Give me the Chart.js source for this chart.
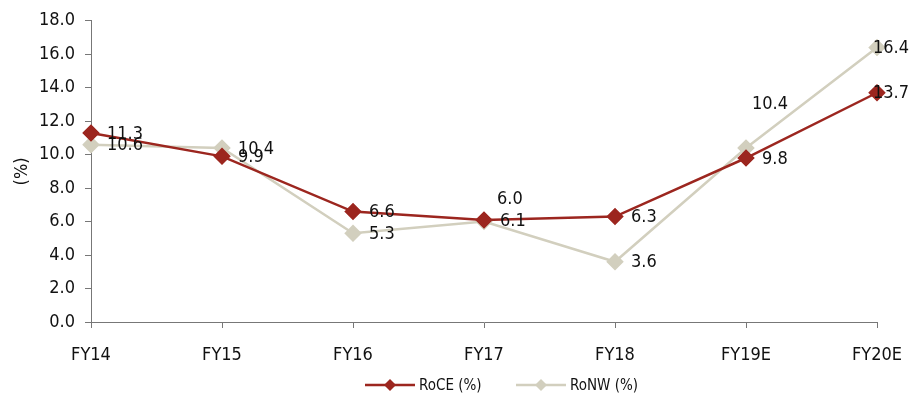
<!DOCTYPE html>
<html>
<head>
<meta charset="utf-8">
<script src="https://cdn.jsdelivr.net/npm/chart.js@4"></script>
<style>
  html, body { margin: 0; padding: 0; background: #fff; }
  #wrap { width: 922px; height: 401px; }
</style>
</head>
<body>
<div id="wrap"><canvas id="retChart" width="922" height="401"></canvas></div>
<script>
// ---- data ----
const years = ['FY14', 'FY15', 'FY16', 'FY17', 'FY18', 'FY19E', 'FY20E'];
const roce = [11.3, 9.9, 6.6, 6.1, 6.3, 9.8, 13.7];
const ronw = [10.6, 10.4, 5.3, 6.0, 3.6, 10.4, 16.4];
const yTicks = [0, 2, 4, 6, 8, 10, 12, 14, 16, 18];

const FONT = "'Liberation Sans Narrow', 'DejaVu Sans Condensed', sans-serif";
const RED = '#9C261F';
const BEIGE = '#D2CFBE';

// label nudges (px) per series / point
const labelShift = {
    0: { 5: [16, 0], 6: [-4, 0] },
    1: { 3: [13, -23], 5: [6, -45], 6: [-4, 0] }
};

const valueLabels = {
    id: 'valueLabels',
    afterDatasetsDraw(chart) {
        const ctx = chart.ctx;
        ctx.save();
        ctx.font = '18px ' + FONT;
        ctx.fillStyle = '#111';
        ctx.textAlign = 'left';
        ctx.textBaseline = 'middle';
        chart.data.datasets.forEach((ds, di) => {
            const meta = chart.getDatasetMeta(di);
            meta.data.forEach((pt, i) => {
                const s = (labelShift[di] && labelShift[di][i]) || [16, 0];
                ctx.fillText(ds.data[i].toFixed(1), pt.x + s[0], pt.y + s[1] + 1);
            });
        });
        ctx.restore();
    }
};

const lineLegend = {
    id: 'lineLegend',
    afterDraw(chart) {
        const ctx = chart.ctx;
        const y = 385;
        const items = [
            { x: 365, label: 'RoCE (%)', color: RED },
            { x: 516, label: 'RoNW (%)', color: BEIGE }
        ];
        ctx.save();
        items.forEach(it => {
            ctx.strokeStyle = it.color;
            ctx.lineWidth = 2.5;
            ctx.beginPath();
            ctx.moveTo(it.x, y);
            ctx.lineTo(it.x + 50, y);
            ctx.stroke();
            ctx.fillStyle = it.color;
            ctx.beginPath();
            ctx.moveTo(it.x + 25, y - 6);
            ctx.lineTo(it.x + 31, y);
            ctx.lineTo(it.x + 25, y + 6);
            ctx.lineTo(it.x + 19, y);
            ctx.closePath();
            ctx.fill();
            ctx.fillStyle = '#111';
            ctx.font = '15px ' + FONT;
            ctx.textBaseline = 'middle';
            ctx.fillText(it.label, it.x + 54, y + 1);
        });
        ctx.restore();
    }
};

new Chart(document.getElementById('retChart'), {
    type: 'line',
    data: {
        labels: years,
        datasets: [
            {
                label: 'RoCE (%)',
                data: roce,
                borderColor: RED,
                backgroundColor: RED,
                borderWidth: 2.5,
                pointStyle: 'rectRot',
                pointRadius: 7,
                pointHoverRadius: 7,
                tension: 0,
                order: 1
            },
            {
                label: 'RoNW (%)',
                data: ronw,
                borderColor: BEIGE,
                backgroundColor: BEIGE,
                borderWidth: 2.5,
                pointStyle: 'rectRot',
                pointRadius: 7,
                pointHoverRadius: 7,
                tension: 0,
                order: 2
            }
        ]
    },
    options: {
        responsive: false,
        animation: false,
        layout: { padding: { top: 19, right: 45, left: 0, bottom: 0 } },
        plugins: {
            legend: { display: false },
            tooltip: { enabled: false }
        },
        scales: {
            x: {
                offset: false,
                border: { color: '#777', width: 1 },
                grid: { display: true, drawOnChartArea: false, drawTicks: true, tickLength: 6, color: '#777' },
                ticks: { padding: 17, color: '#111', font: { family: FONT, size: 18 }, maxRotation: 0 },
                afterFit(s) { s.height = 79; }
            },
            y: {
                min: 0,
                max: 18,
                afterBuildTicks(s) { s.ticks = yTicks.map(v => ({ value: v })); },
                border: { color: '#777', width: 1 },
                grid: { display: true, drawOnChartArea: false, drawTicks: true, tickLength: 6, color: '#777' },
                ticks: {
                    padding: 10,
                    color: '#111',
                    font: { family: FONT, size: 18 },
                    callback: v => v.toFixed(1)
                },
                title: {
                    display: true,
                    text: '(%)',
                    color: '#111',
                    font: { family: FONT, size: 18 },
                    padding: { top: 12, bottom: 0 }
                },
                afterFit(s) { s.width = 91; }
            }
        }
    },
    plugins: [valueLabels, lineLegend]
});
</script>
</body>
</html>
